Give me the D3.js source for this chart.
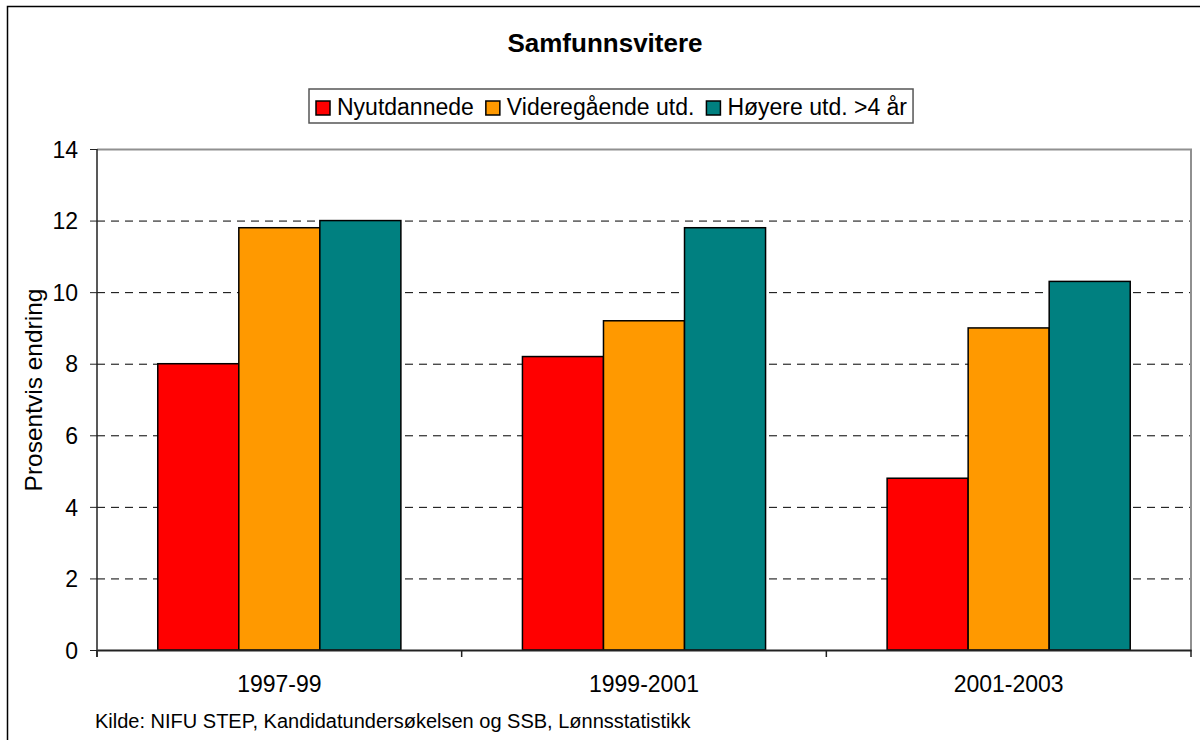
<!DOCTYPE html>
<html lang="no">
<head>
<meta charset="UTF-8">
<title>Samfunnsvitere</title>
<style>
    body { margin: 0; background: #fff; }
    svg { display: block; font-family: "Liberation Sans", Arial, sans-serif; }
    .tick text { font-size: 23px; fill: #000; }
    .grid line { stroke: #000; stroke-dasharray: 8 6; stroke-width: 1; }
    .legendText { font-size: 23px; }
</style>
<script src="https://cdn.jsdelivr.net/npm/d3@7"></script>
</head>
<body>
<script>
    // data
    const periods = ["1997-99", "1999-2001", "2001-2003"];
    const seriesNames = ["Nyutdannede", "Videregående utd.", "Høyere utd. >4 år"];
    const seriesColors = ["#ff0000", "#ff9900", "#008080"];
    const nyutdannede = [8.0, 8.2, 4.8];
    const videregaende = [11.8, 9.2, 9.0];
    const hoyere = [12.0, 11.8, 10.3];
    const yTicks = [0, 2, 4, 6, 8, 10, 12, 14];

    const width = 1200, height = 740;
    const plot = { left: 97, right: 1191, top: 149, bottom: 650 };

    const svg = d3.select("body").append("svg")
        .attr("width", width).attr("height", height);

    // outer frame (runs off the right and bottom edge)
    svg.append("rect")
        .attr("x", 7.5).attr("y", 6.5)
        .attr("width", 1400).attr("height", 900)
        .attr("fill", "none").attr("stroke", "#000").attr("stroke-width", 1.5);

    const x0 = d3.scaleBand().domain(periods).range([plot.left, plot.right]);
    const x1 = d3.scaleBand().domain(seriesNames).range([0, x0.bandwidth()])
        .paddingInner(0).paddingOuter(0.75);
    const y = d3.scaleLinear().domain([0, 14]).range([plot.bottom, plot.top]);
    const color = d3.scaleOrdinal().domain(seriesNames).range(seriesColors);

    // grid lines
    svg.append("g").attr("class", "grid")
        .selectAll("line")
        .data(yTicks.filter(d => d > 0 && d < 14))
        .join("line")
        .attr("x1", plot.left).attr("x2", plot.right)
        .attr("y1", d => y(d) + 0.5).attr("y2", d => y(d) + 0.5);

    // plot border top + right (gray)
    svg.append("path")
        .attr("d", `M${plot.left},${y(14) + 0.5}H${plot.right}V${plot.bottom}`)
        .attr("fill", "none").attr("stroke", "#909090").attr("stroke-width", 2);

    // bars
    const rows = periods.map((p, i) => ({
        period: p,
        values: [nyutdannede[i], videregaende[i], hoyere[i]]
            .map((v, j) => ({ name: seriesNames[j], value: v }))
    }));

    svg.append("g").selectAll("g")
        .data(rows)
        .join("g")
        .attr("transform", d => `translate(${x0(d.period)},0)`)
        .selectAll("rect")
        .data(d => d.values)
        .join("rect")
        .attr("x", d => x1(d.name))
        .attr("y", d => y(d.value))
        .attr("width", x1.bandwidth())
        .attr("height", d => y(0) - y(d.value))
        .attr("fill", d => color(d.name))
        .attr("stroke", "#000")
        .attr("stroke-width", 1.5);

    // y axis
    const yAxis = svg.append("g")
        .attr("transform", `translate(${plot.left},0)`)
        .call(d3.axisLeft(y).tickValues(yTicks).tickSize(7).tickPadding(12).tickSizeOuter(0));
    yAxis.select(".domain").attr("stroke", "#222").attr("stroke-width", 1.5)
        .attr("d", `M0,${plot.top}V${plot.bottom + 7}`);
    yAxis.selectAll(".tick line").attr("stroke", "#222");
    yAxis.selectAll(".tick text").attr("dy", "0.36em");

    // x axis
    const xAxis = svg.append("g")
        .attr("transform", `translate(0,${plot.bottom})`)
        .call(d3.axisBottom(x0).tickSize(0).tickPadding(0));
    xAxis.select(".domain").attr("stroke", "#222").attr("stroke-width", 2);
    xAxis.selectAll(".tick text").attr("y", 42).attr("dy", 0);
    xAxis.append("g").selectAll("line")
        .data(x0.domain().map(d => x0(d)).concat([plot.right]))
        .join("line")
        .attr("x1", d => d).attr("x2", d => d)
        .attr("y1", 0).attr("y2", 7)
        .attr("stroke", "#222").attr("stroke-width", 1.5);

    // title
    svg.append("text")
        .attr("x", 605).attr("y", 52)
        .attr("text-anchor", "middle")
        .attr("font-size", 26).attr("font-weight", "bold")
        .text("Samfunnsvitere");

    // y label
    svg.append("text")
        .attr("transform", "translate(42,390) rotate(-90)")
        .attr("text-anchor", "middle")
        .attr("font-size", 24.5)
        .text("Prosentvis endring");

    // source
    svg.append("text")
        .attr("x", 95).attr("y", 728)
        .attr("font-size", 20)
        .text("Kilde: NIFU STEP, Kandidatundersøkelsen og SSB, Lønnsstatistikk");

    // legend
    const legend = svg.append("g").attr("transform", "translate(309,89)");
    const legendBox = legend.append("rect")
        .attr("height", 34)
        .attr("fill", "#fff").attr("stroke", "#555").attr("stroke-width", 1.5);
    let cx = 7;
    seriesNames.forEach(name => {
        const item = legend.append("g").attr("transform", `translate(${cx},0)`);
        item.append("rect")
            .attr("x", 0).attr("y", 12).attr("width", 14).attr("height", 14)
            .attr("fill", color(name)).attr("stroke", "#000").attr("stroke-width", 1.5);
        const t = item.append("text")
            .attr("class", "legendText")
            .attr("x", 21).attr("y", 26)
            .text(name);
        cx += 21 + t.node().getComputedTextLength() + 12;
    });
    legendBox.attr("width", cx - 6);
</script>
</body>
</html>
